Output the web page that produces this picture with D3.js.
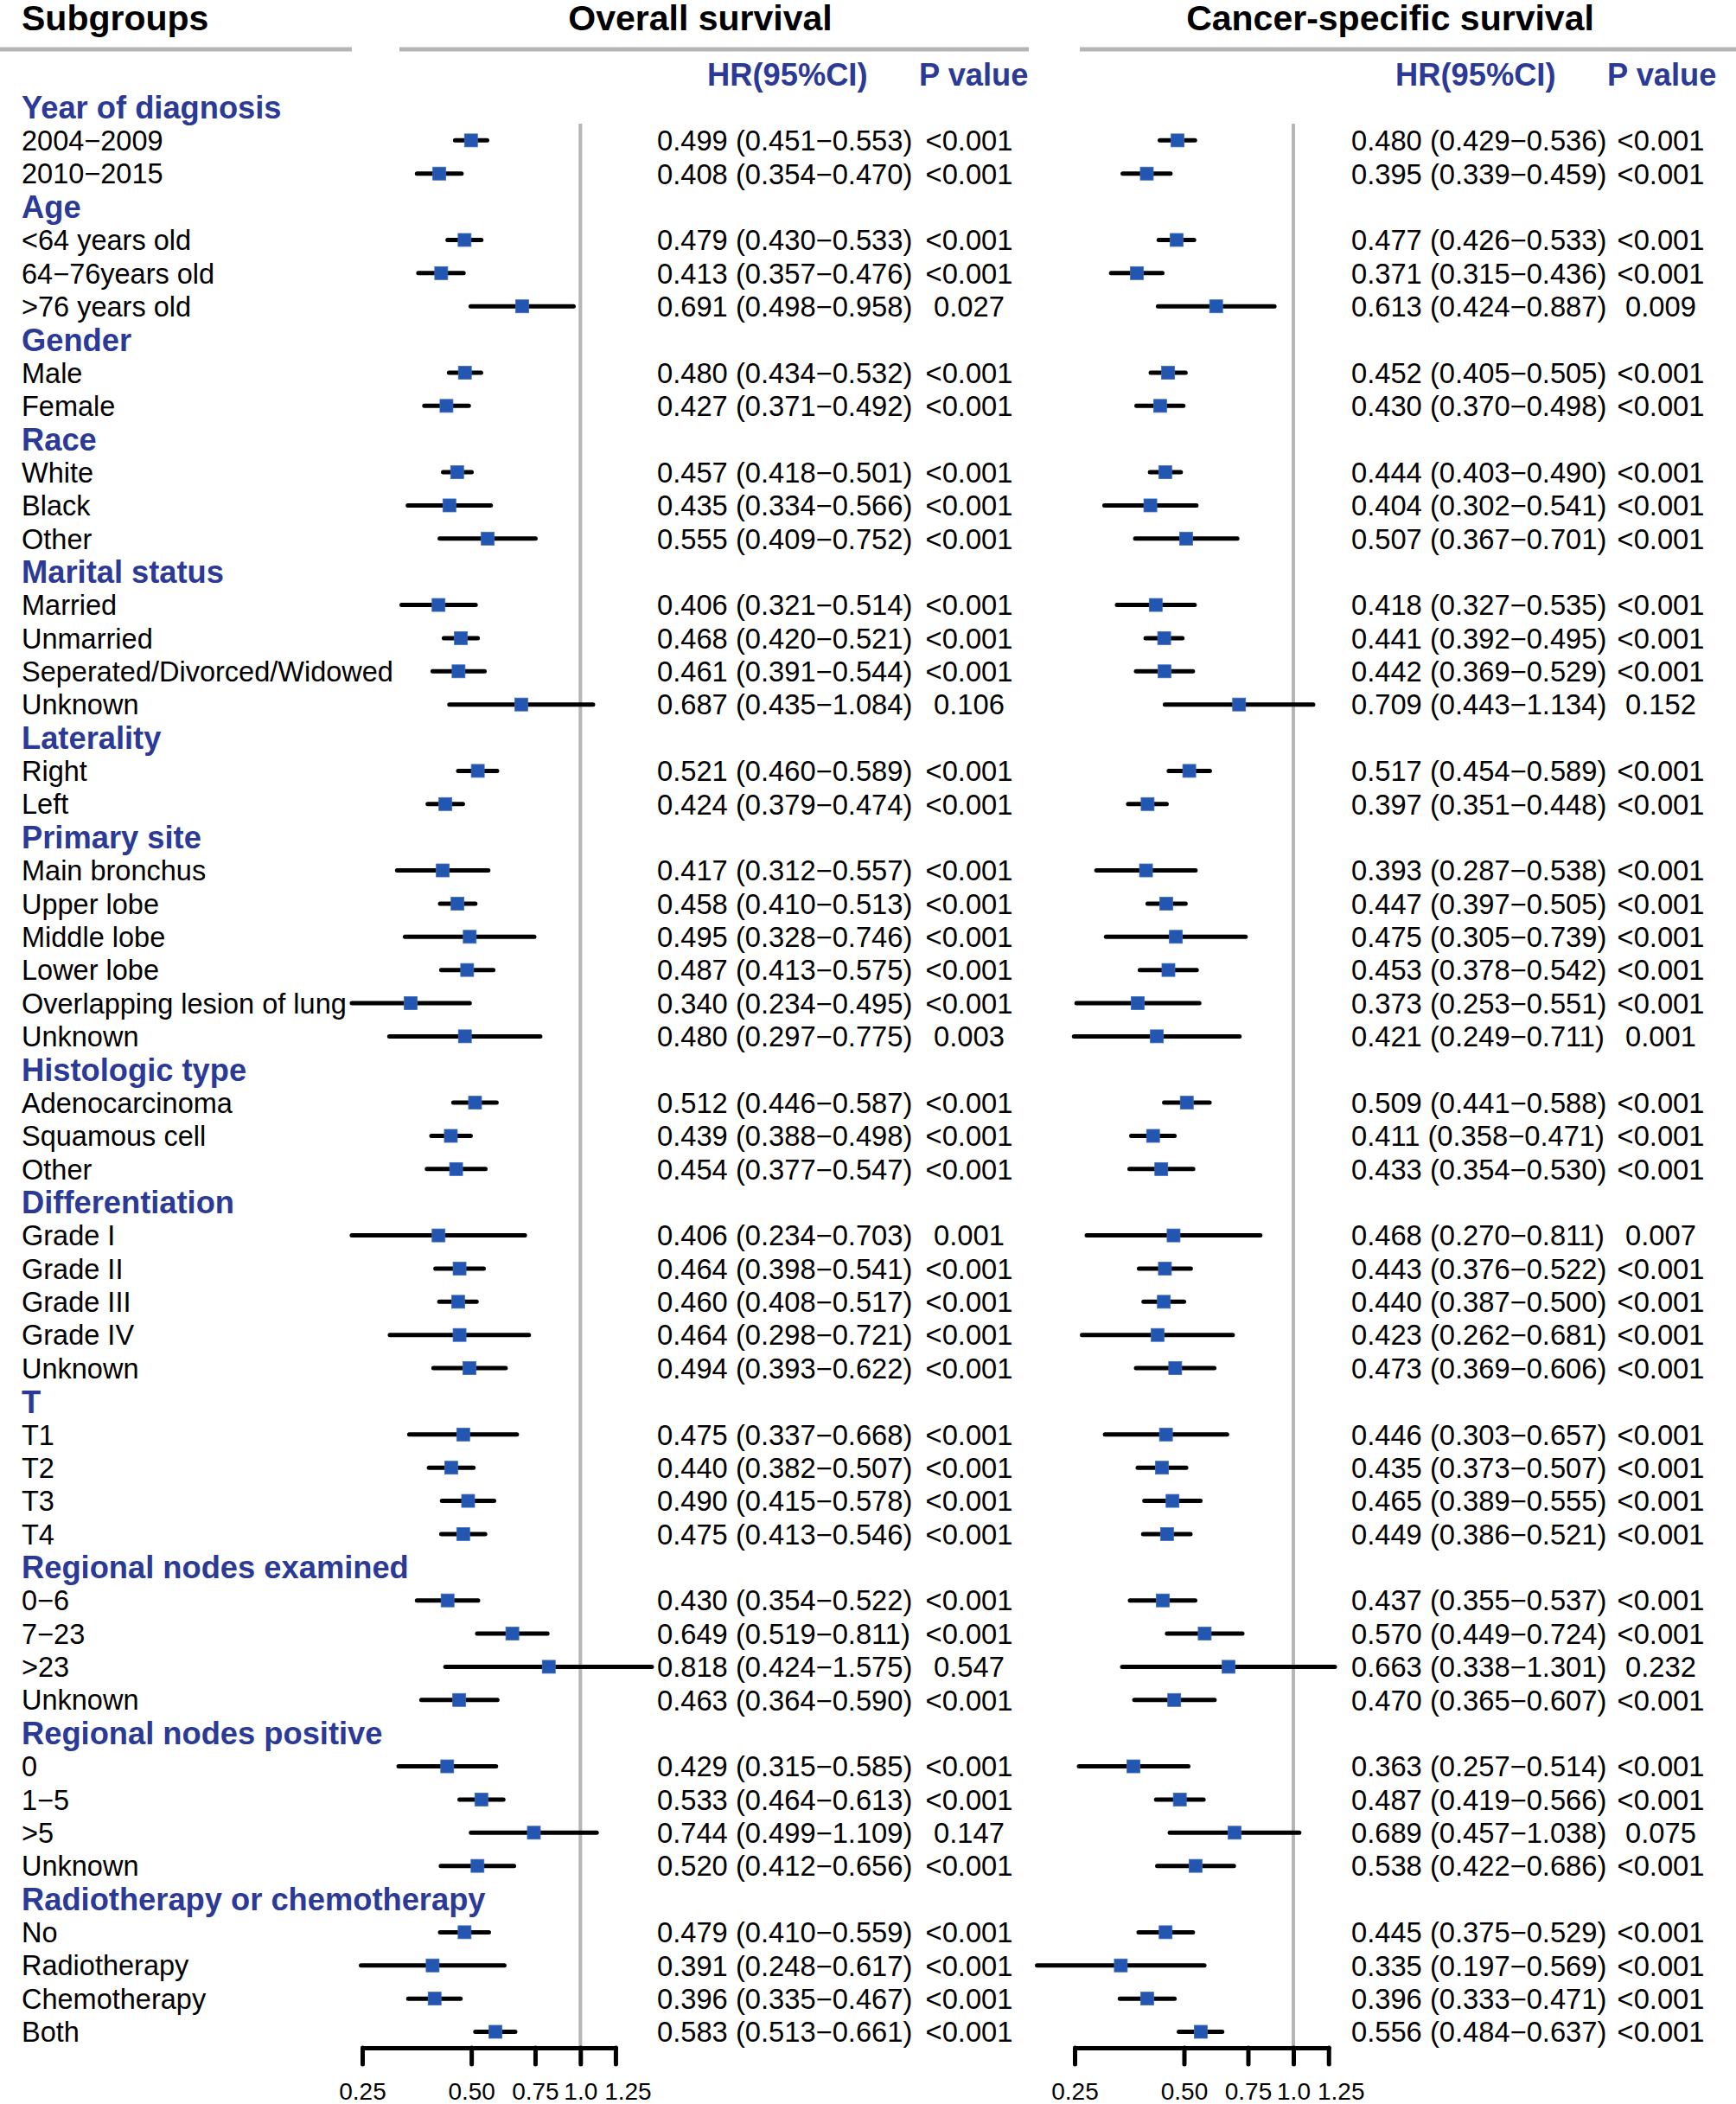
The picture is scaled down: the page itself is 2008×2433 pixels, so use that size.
<!DOCTYPE html>
<html>
<head>
<meta charset="utf-8">
<script src="https://cdn.jsdelivr.net/npm/d3@7"></script>
<style>
  html, body { margin: 0; padding: 0; background: #ffffff; }
  svg { display: block; font-family: "Liberation Sans", Arial, Helvetica, sans-serif; }
</style>
</head>
<body>
<svg id="chart" width="2008" height="2433"></svg>
<script>
// ---------------- DATA ----------------
const rowLabels = [
  "Year of diagnosis", "2004−2009", "2010−2015",
  "Age", "<64 years old", "64−76years old", ">76 years old",
  "Gender", "Male", "Female",
  "Race", "White", "Black", "Other",
  "Marital status", "Married", "Unmarried", "Seperated/Divorced/Widowed", "Unknown",
  "Laterality", "Right", "Left",
  "Primary site", "Main bronchus", "Upper lobe", "Middle lobe", "Lower lobe", "Overlapping lesion of lung", "Unknown",
  "Histologic type", "Adenocarcinoma", "Squamous cell", "Other",
  "Differentiation", "Grade I", "Grade II", "Grade III", "Grade IV", "Unknown",
  "T", "T1", "T2", "T3", "T4",
  "Regional nodes examined", "0−6", "7−23", ">23", "Unknown",
  "Regional nodes positive", "0", "1−5", ">5", "Unknown",
  "Radiotherapy or chemotherapy", "No", "Radiotherapy", "Chemotherapy", "Both"
];
const headerRows = [0, 3, 7, 10, 14, 19, 22, 29, 33, 39, 44, 49, 54];

// Overall survival (null on header rows)
const osHR = [null,0.499,0.408, null,0.479,0.413,0.691, null,0.480,0.427, null,0.457,0.435,0.555,
  null,0.406,0.468,0.461,0.687, null,0.521,0.424, null,0.417,0.458,0.495,0.487,0.340,0.480,
  null,0.512,0.439,0.454, null,0.406,0.464,0.460,0.464,0.494, null,0.475,0.440,0.490,0.475,
  null,0.430,0.649,0.818,0.463, null,0.429,0.533,0.744,0.520, null,0.479,0.391,0.396,0.583];
const osLo = [null,0.451,0.354, null,0.430,0.357,0.498, null,0.434,0.371, null,0.418,0.334,0.409,
  null,0.321,0.420,0.391,0.435, null,0.460,0.379, null,0.312,0.410,0.328,0.413,0.234,0.297,
  null,0.446,0.388,0.377, null,0.234,0.398,0.408,0.298,0.393, null,0.337,0.382,0.415,0.413,
  null,0.354,0.519,0.424,0.364, null,0.315,0.464,0.499,0.412, null,0.410,0.248,0.335,0.513];
const osHi = [null,0.553,0.470, null,0.533,0.476,0.958, null,0.532,0.492, null,0.501,0.566,0.752,
  null,0.514,0.521,0.544,1.084, null,0.589,0.474, null,0.557,0.513,0.746,0.575,0.495,0.775,
  null,0.587,0.498,0.547, null,0.703,0.541,0.517,0.721,0.622, null,0.668,0.507,0.578,0.546,
  null,0.522,0.811,1.575,0.590, null,0.585,0.613,1.109,0.656, null,0.559,0.617,0.467,0.661];
const osP = [null,"<0.001","<0.001", null,"<0.001","<0.001","0.027", null,"<0.001","<0.001", null,"<0.001","<0.001","<0.001",
  null,"<0.001","<0.001","<0.001","0.106", null,"<0.001","<0.001", null,"<0.001","<0.001","<0.001","<0.001","<0.001","0.003",
  null,"<0.001","<0.001","<0.001", null,"0.001","<0.001","<0.001","<0.001","<0.001", null,"<0.001","<0.001","<0.001","<0.001",
  null,"<0.001","<0.001","0.547","<0.001", null,"<0.001","<0.001","0.147","<0.001", null,"<0.001","<0.001","<0.001","<0.001"];

// Cancer-specific survival
const cssHR = [null,0.480,0.395, null,0.477,0.371,0.613, null,0.452,0.430, null,0.444,0.404,0.507,
  null,0.418,0.441,0.442,0.709, null,0.517,0.397, null,0.393,0.447,0.475,0.453,0.373,0.421,
  null,0.509,0.411,0.433, null,0.468,0.443,0.440,0.423,0.473, null,0.446,0.435,0.465,0.449,
  null,0.437,0.570,0.663,0.470, null,0.363,0.487,0.689,0.538, null,0.445,0.335,0.396,0.556];
const cssLo = [null,0.429,0.339, null,0.426,0.315,0.424, null,0.405,0.370, null,0.403,0.302,0.367,
  null,0.327,0.392,0.369,0.443, null,0.454,0.351, null,0.287,0.397,0.305,0.378,0.253,0.249,
  null,0.441,0.358,0.354, null,0.270,0.376,0.387,0.262,0.369, null,0.303,0.373,0.389,0.386,
  null,0.355,0.449,0.338,0.365, null,0.257,0.419,0.457,0.422, null,0.375,0.197,0.333,0.484];
const cssHi = [null,0.536,0.459, null,0.533,0.436,0.887, null,0.505,0.498, null,0.490,0.541,0.701,
  null,0.535,0.495,0.529,1.134, null,0.589,0.448, null,0.538,0.505,0.739,0.542,0.551,0.711,
  null,0.588,0.471,0.530, null,0.811,0.522,0.500,0.681,0.606, null,0.657,0.507,0.555,0.521,
  null,0.537,0.724,1.301,0.607, null,0.514,0.566,1.038,0.686, null,0.529,0.569,0.471,0.637];
const cssP = [null,"<0.001","<0.001", null,"<0.001","<0.001","0.009", null,"<0.001","<0.001", null,"<0.001","<0.001","<0.001",
  null,"<0.001","<0.001","<0.001","0.152", null,"<0.001","<0.001", null,"<0.001","<0.001","<0.001","<0.001","<0.001","0.001",
  null,"<0.001","<0.001","<0.001", null,"0.007","<0.001","<0.001","<0.001","<0.001", null,"<0.001","<0.001","<0.001","<0.001",
  null,"<0.001","<0.001","0.232","<0.001", null,"<0.001","<0.001","0.075","<0.001", null,"<0.001","<0.001","<0.001","<0.001"];

const tickValues = [0.25, 0.5, 0.75, 1.0, 1.25];
const tickLabels = ["0.25", "0.50", "0.75", "1.0", "1.25"];
const panelTitles = ["Overall survival", "Cancer-specific survival"];
const colHeaders = ["HR(95%CI)", "P value"];

// ---------------- STYLE / LAYOUT ----------------
const BLUE_TEXT = "#2b3a97";
const BLUE_SQ = "#2256b0";
const GRAY = "#b5b5b8";
const fmt = d3.format(".3f");

const svg = d3.select("#chart");
svg.append("rect").attr("width", 2008).attr("height", 2433).attr("fill", "#fff");

const y = d3.scalePoint().domain(d3.range(rowLabels.length)).range([124, 2349.5]);
const isHeader = new Set(headerRows);

const panels = [
  { hr: osHR, lo: osLo, hi: osHi, p: osP, x0: 419, pxPerLn: 182, hrX: 760, pX: 1121,
    hdrHR: 818, hdrP: 1063, titleX: 810, lineX: [462, 1190] },
  { hr: cssHR, lo: cssLo, hi: cssHi, p: cssP, x0: 1243, pxPerLn: 182.5, hrX: 1563, pX: 1921,
    hdrHR: 1614, hdrP: 1859, titleX: 1608, lineX: [1249, 2008] }
];

// Titles and top rules
svg.append("text").attr("x", 25).attr("y", 35)
  .attr("font-size", 41).attr("font-weight", "bold").attr("fill", "#000").text("Subgroups");
svg.append("line").attr("x1", 0).attr("x2", 407).attr("y1", 57).attr("y2", 57)
  .attr("stroke", GRAY).attr("stroke-width", 5);

// Row labels
svg.append("g").selectAll("text").data(rowLabels).join("text")
  .attr("x", 25)
  .attr("y", (d, i) => y(i))
  .attr("dy", "0.36em")
  .attr("font-size", (d, i) => isHeader.has(i) ? 36.3 : 32.5)
  .attr("font-weight", (d, i) => isHeader.has(i) ? "bold" : "normal")
  .attr("fill", (d, i) => isHeader.has(i) ? BLUE_TEXT : "#000")
  .text(d => d);

panels.forEach((P, pi) => {
  const x = d3.scaleLog().domain([0.25, 1.25]).range([P.x0, P.x0 + P.pxPerLn * Math.log(5)]);
  const g = svg.append("g");

  // title + rule
  g.append("text").attr("x", P.titleX).attr("y", 35).attr("text-anchor", "middle")
    .attr("font-size", 41).attr("font-weight", "bold").attr("fill", "#000").text(panelTitles[pi]);
  g.append("line").attr("x1", P.lineX[0]).attr("x2", P.lineX[1]).attr("y1", 57).attr("y2", 57)
    .attr("stroke", GRAY).attr("stroke-width", 5);

  // column headers
  g.append("text").attr("x", P.hdrHR).attr("y", 99).attr("font-size", 36.3).attr("font-weight", "bold")
    .attr("fill", BLUE_TEXT).text(colHeaders[0]);
  g.append("text").attr("x", P.hdrP).attr("y", 99).attr("font-size", 36.3).attr("font-weight", "bold")
    .attr("fill", BLUE_TEXT).text(colHeaders[1]);

  // reference line at 1
  g.append("line").attr("x1", x(1)).attr("x2", x(1)).attr("y1", 143).attr("y2", 2368)
    .attr("stroke", GRAY).attr("stroke-width", 4);

  const rows = d3.range(rowLabels.length).filter(i => P.hr[i] != null);

  // CI lines
  g.append("g").selectAll("line").data(rows).join("line")
    .attr("x1", i => x(P.lo[i])).attr("x2", i => x(P.hi[i]))
    .attr("y1", i => y(i)).attr("y2", i => y(i))
    .attr("stroke", "#000").attr("stroke-width", 5).attr("stroke-linecap", "round");

  // squares
  const s = 15;
  g.append("g").selectAll("rect").data(rows).join("rect")
    .attr("x", i => x(P.hr[i]) - s / 2).attr("y", i => y(i) - s / 2)
    .attr("width", s).attr("height", s)
    .attr("fill", BLUE_SQ).attr("stroke", "#3d6cc0").attr("stroke-width", 0.8);

  // HR text
  g.append("g").selectAll("text").data(rows).join("text")
    .attr("x", P.hrX).attr("y", i => y(i)).attr("dy", "0.36em")
    .attr("font-size", 32.7).attr("fill", "#000")
    .text(i => `${fmt(P.hr[i])} (${fmt(P.lo[i])}−${fmt(P.hi[i])})`);

  // P text
  g.append("g").selectAll("text").data(rows).join("text")
    .attr("x", P.pX).attr("y", i => y(i)).attr("dy", "0.36em")
    .attr("text-anchor", "middle")
    .attr("font-size", 32.7).attr("fill", "#000")
    .text(i => P.p[i]);

  // axis
  const axis = d3.axisBottom(x).tickValues(tickValues)
    .tickFormat((d, k) => tickLabels[k]).tickSize(19).tickSizeOuter(0).tickPadding(21);
  const ag = g.append("g").attr("transform", "translate(0,2368)").call(axis);
  ag.select(".domain").attr("stroke", "#000").attr("stroke-width", 5).attr("stroke-linecap", "round");
  ag.selectAll(".tick line").attr("stroke", "#000").attr("stroke-width", 5).attr("stroke-linecap", "round");
  ag.selectAll(".tick text").attr("font-size", 28).attr("fill", "#000")
    .attr("font-family", "'Liberation Sans', Arial, sans-serif")
    .attr("dx", d => d === 1.25 ? 14 : 0);
});
</script>
</body>
</html>
